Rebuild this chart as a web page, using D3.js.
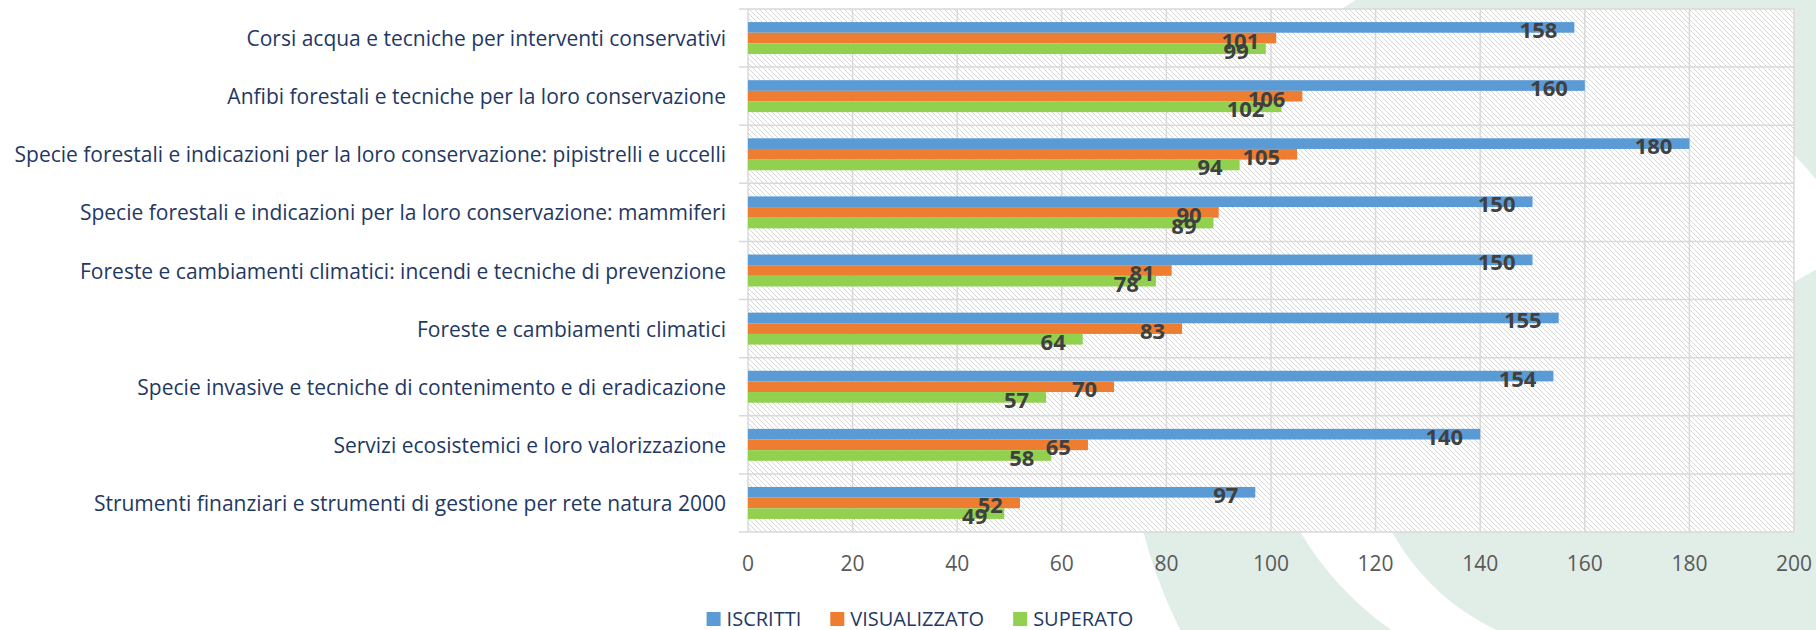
<!DOCTYPE html>
<html>
<head>
<meta charset="utf-8">
<script src="https://cdn.jsdelivr.net/npm/d3@7"></script>
<style>
  body { margin: 0; background: #fff; }
  svg text { font-family: "Open Sans", sans-serif; }
</style>
</head>
<body>
<svg id="chart"></svg>
<script>
// data (top to bottom, as in the picture)
var categories = [
  "Corsi acqua e tecniche per interventi conservativi",
  "Anfibi forestali e tecniche per la loro conservazione",
  "Specie forestali e indicazioni per la loro conservazione: pipistrelli e uccelli",
  "Specie forestali e indicazioni per la loro conservazione: mammiferi",
  "Foreste e cambiamenti climatici: incendi e tecniche di prevenzione",
  "Foreste e cambiamenti climatici",
  "Specie invasive e tecniche di contenimento e di eradicazione",
  "Servizi ecosistemici e loro valorizzazione",
  "Strumenti finanziari e strumenti di gestione per rete natura 2000"
];
var iscritti     = [158, 160, 180, 150, 150, 155, 154, 140, 97];
var visualizzato = [101, 106, 105, 90, 81, 83, 70, 65, 52];
var superato     = [99, 102, 94, 89, 78, 64, 57, 58, 49];
var seriesNames  = ["ISCRITTI", "VISUALIZZATO", "SUPERATO"];
var seriesValues = [iscritti, visualizzato, superato];
var xTicks = [0, 20, 40, 60, 80, 100, 120, 140, 160, 180, 200];

// layout
var W = 1816, H = 630,
    plot = {left: 748, right: 1794, top: 9, bottom: 532},
    labelRight = 726,
    labelTargetWidth = 714,
    colors = {ISCRITTI: "#5b9bd5", VISUALIZZATO: "#ed7d31", SUPERATO: "#92d050"},
    navy = "#1f3864",
    grid = "#d9d9d9",
    bgGreen = "#e1ede7";

var svg = d3.select("#chart").attr("width", W).attr("height", H);
var defs = svg.append("defs");

// background watermark: big green disc with a white crescent band
var bg = svg.append("g");
bg.append("circle").attr("cx", 1613).attr("cy", 411).attr("r", 485).attr("fill", bgGreen);

function circlePath(cx, cy, r) {
  return "M" + (cx - r) + "," + cy +
    "a" + r + "," + r + " 0 1,0 " + (2*r) + ",0" +
    "a" + r + "," + r + " 0 1,0 " + (-2*r) + ",0Z";
}
var wedgeAngles = [95, 140, 180, 220, 270, 300, 330];
var wedge = [[1590, 400]].concat(wedgeAngles.map(function(a){
  var t = a*Math.PI/180;
  return [1590 + 1000*Math.cos(t), 400 + 1000*Math.sin(t)];
}));
defs.append("clipPath").attr("id", "wedge")
  .append("path").attr("d", "M" + wedge.join("L") + "Z");
bg.append("path")
  .attr("d", circlePath(1570, 373, 313) + circlePath(1598, 417, 236))
  .attr("fill-rule", "evenodd")
  .attr("fill", "#fff")
  .attr("clip-path", "url(#wedge)");

// hatch pattern
var pat = defs.append("pattern")
  .attr("id", "hatch")
  .attr("patternUnits", "userSpaceOnUse")
  .attr("width", 5).attr("height", 5);
pat.append("rect").attr("width", 5).attr("height", 5).attr("fill", "#fff");
pat.append("path").attr("d", "M-1,-1L6,6M-1,4L1,6M4,-1L6,1")
  .attr("stroke", "#d2d2d2").attr("stroke-width", 0.9);

// scales
var x = d3.scaleLinear().domain([0, 200]).range([plot.left, plot.right]);
var y = d3.scaleBand().domain(categories).range([plot.top, plot.bottom])
  .paddingInner(0.45).paddingOuter(0.225);
var ySub = d3.scaleBand().domain(seriesNames).range([0, y.bandwidth()]);

// plot background
svg.append("rect")
  .attr("x", plot.left).attr("y", plot.top)
  .attr("width", plot.right - plot.left).attr("height", plot.bottom - plot.top)
  .attr("fill", "url(#hatch)");

// grid
var step = y.step();
var rowEdges = d3.range(categories.length + 1).map(function(i){ return plot.top + i*step; });
svg.append("g").selectAll("line").data(xTicks).enter().append("line")
  .attr("x1", function(d){ return x(d); }).attr("x2", function(d){ return x(d); })
  .attr("y1", plot.top).attr("y2", plot.bottom)
  .attr("stroke", grid).attr("stroke-width", 1.5);
svg.append("g").selectAll("line").data(rowEdges).enter().append("line")
  .attr("x1", plot.left - 9).attr("x2", plot.right)
  .attr("y1", function(d){ return d; }).attr("y2", function(d){ return d; })
  .attr("stroke", grid).attr("stroke-width", 1.5);

// bars
var rows = [];
categories.forEach(function(c, i){
  seriesNames.forEach(function(s, j){
    rows.push({cat: c, series: s, value: seriesValues[j][i]});
  });
});

svg.append("g").selectAll("rect").data(rows).enter().append("rect")
  .attr("x", x(0))
  .attr("y", function(d){ return y(d.cat) + ySub(d.series); })
  .attr("width", function(d){ return x(d.value) - x(0); })
  .attr("height", ySub.bandwidth())
  .attr("fill", function(d){ return colors[d.series]; });

// value labels
svg.append("g").selectAll("text").data(rows).enter().append("text")
  .attr("x", function(d){ return x(d.value) - 17; })
  .attr("y", function(d){ return y(d.cat) + ySub(d.series) + ySub.bandwidth()/2 + 1.5; })
  .attr("text-anchor", "end")
  .attr("dominant-baseline", "central")
  .attr("fill", "#404040")
  .style("font-weight", "bold")
  .style("font-size", "22px")
  .text(function(d){ return d.value; });

// category labels
var catLabels = svg.append("g").selectAll("text").data(categories).enter().append("text")
  .attr("text-anchor", "end")
  .attr("dominant-baseline", "central")
  .attr("fill", navy)
  .style("font-size", "21px")
  .text(function(d){ return d; });
var longest = d3.max(catLabels.nodes(), function(n){ return n.getComputedTextLength(); });
var sx = Math.min(1, labelTargetWidth / longest);
catLabels.attr("transform", function(d){
  return "translate(" + [labelRight, y(d) + y.bandwidth()/2] + ") scale(" + sx + ",1)";
});

// x tick labels
svg.append("g").selectAll("text").data(xTicks).enter().append("text")
  .attr("x", function(d){ return x(d); })
  .attr("y", 563)
  .attr("text-anchor", "middle")
  .attr("dominant-baseline", "central")
  .attr("fill", "#595959")
  .style("font-size", "21px")
  .text(function(d){ return d; });

// legend
var legend = svg.append("g");
var items = legend.selectAll("g").data(seriesNames).enter().append("g");
items.append("rect").attr("width", 14).attr("height", 14).attr("y", 612)
  .attr("fill", function(d){ return colors[d]; });
items.append("text").attr("x", 20).attr("y", 626)
  .attr("fill", navy)
  .style("font-size", "20px")
  .text(function(d){ return d; });
var lx = 0;
items.each(function(){
  var g = d3.select(this);
  var tw = g.select("text").node().getComputedTextLength();
  g.attr("transform", "translate(" + lx + ",0)");
  lx += 20 + tw + 29;
});
lx -= 29;
legend.attr("transform", "translate(" + (920 - lx/2) + ",0)");
</script>
</body>
</html>
